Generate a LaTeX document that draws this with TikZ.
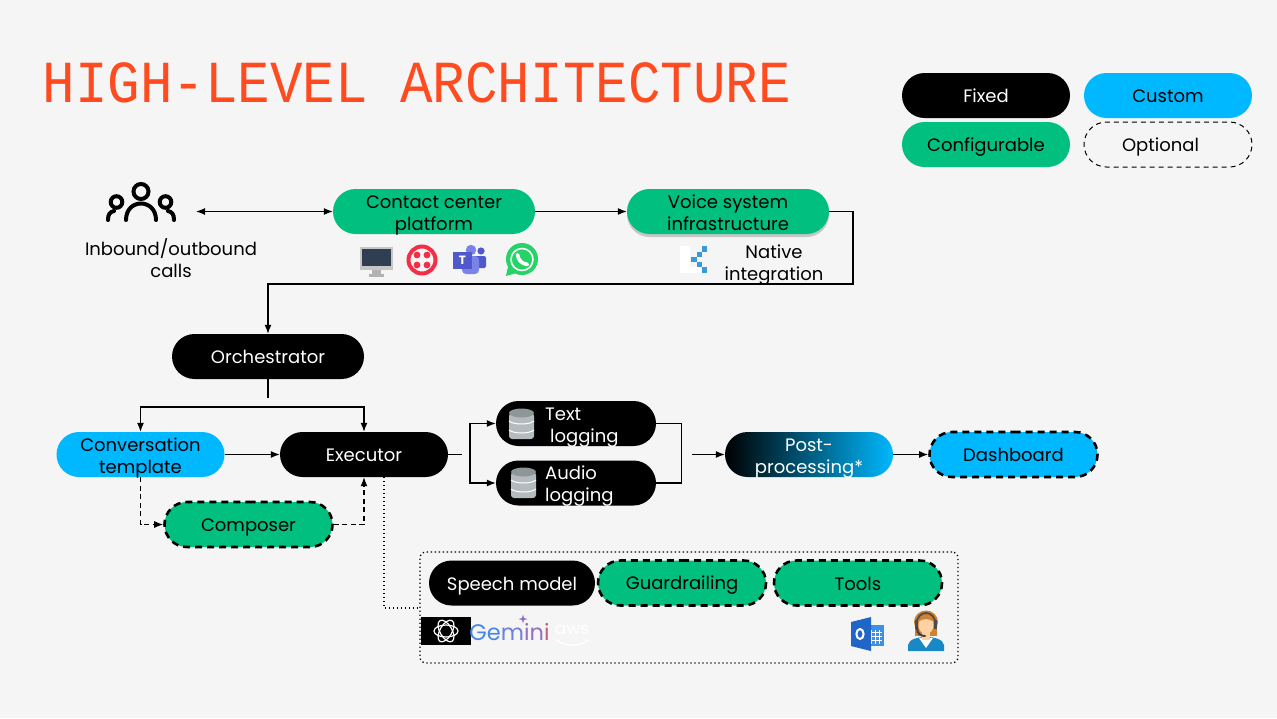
\documentclass[tikz,border=0pt]{standalone}
\usepackage{fontspec}
\setmainfont{Poppins}
\newfontfamily\titlefont{Liberation Mono}
\usetikzlibrary{arrows.meta,calc,shapes.misc,shadows}
\definecolor{pagebg}{HTML}{F5F5F5}
\definecolor{titlered}{HTML}{FF4B1F}
\definecolor{cfggreen}{HTML}{00BF7F}
\definecolor{custblue}{HTML}{00B8FF}
\newcommand{\linestrut}{\rule[-4pt]{0pt}{22.8pt}}
\newcommand{\lowerline}[1]{\smash{\raisebox{-9.5pt}{#1}}}
\tikzset{
  pill/.style = {
    rounded rectangle,
    minimum width=168pt,
    minimum height=45pt,
    inner sep=0pt,
    align=center,
    font={\fontsize{18}{22}\selectfont},
    execute at begin node={\linestrut},
    execute at end node={\linestrut}
  },
  fixedpill/.style = {pill, fill=black, text=white},
  custompill/.style = {pill, fill=custblue},
  configpill/.style = {pill, fill=cfggreen},
  optionalline/.style = {draw=black, line width=2.6pt, dash pattern=on 7pt off 5pt},
  plainlabel/.style = {
    inner sep=0pt,
    align=center,
    font={\fontsize{18}{22}\selectfont},
    execute at begin node={\linestrut},
    execute at end node={\linestrut}
  },
  flow/.style = {
    line width=1.2pt,
    -{Latex[length=9pt,width=7pt]}
  },
  plainline/.style = {
    line width=1.2pt
  },
  dashflow/.style = {
    flow,
    dash pattern=on 5pt off 3.5pt
  },
  dotline/.style = {
    line width=1.3pt,
    dash pattern=on 1.3pt off 2.7pt
  },
}

\begin{document}
\begin{tikzpicture}[x=1pt,y=-1pt]

  \fill[pagebg] (0,0) rectangle (1277,718);
  \useasboundingbox (0,0) rectangle (1277,718);

  \node[text=titlered,inner sep=0pt,anchor=west,font={\titlefont\fontsize{54.2}{60}\selectfont}] (title) at (42.5,82.5) {\scalebox{1}[1.1]{HIGH-LEVEL ARCHITECTURE}};

  % legend
  \node[fixedpill] (fixedkey) at (986,95.5) {Fixed};
  \node[custompill] (customkey) at (1168,95.5) {Custom};
  \node[configpill] (configkey) at (986,144.5) {Configurable};
  \node[pill,draw=black,line width=1pt,dash pattern=on 5pt off 4pt] (optionalkey) at (1168,144.5) {Optional\hspace*{15pt}};

  % top row
  \node[plainlabel] (calls) at (171,260) {Inbound/outbound\\calls};
  \coordinate (callsend) at (196,211.5);
  \node[configpill,minimum width=202pt] (contact) at (434,211.5) {\lowerline{Contact center}\\\lowerline{platform}};
  \node[configpill,minimum width=202pt,drop shadow={shadow xshift=0pt,shadow yshift=-3pt,opacity=0.4}] (voice) at (728,211.5) {\lowerline{Voice system}\\\lowerline{infrastructure}};
  \node[plainlabel] (native) at (774,265) {Native\\integration};

  % middle
  \node[fixedpill,minimum width=192pt] (orchestrator) at (268,356.5) {Orchestrator};
  \node[custompill] (template) at (140.5,454.5) {\lowerline{Conversation}\\\lowerline{template}};
  \node[fixedpill] (executor) at (364,454.5) {Executor};
  \node[configpill,optionalline] (composer) at (248.5,524.5) {Composer};
  \node[fixedpill,minimum width=160pt] (textlog) at (576,423.5) {};
  \node[fixedpill,minimum width=160pt] (audiolog) at (576,483) {};
  \node[plainlabel,text=white,anchor=west,align=left] (textloglabel) at (545,428) {Text\\\hspace*{5pt}logging};
  \node[plainlabel,text=white,anchor=west,align=left] (audiologlabel) at (545,486) {Audio\\logging};
  \node[pill,left color=black,right color=custblue,text=white] (post) at (809,454.5) {\lowerline{Post-}\\\lowerline{processing*}};
  \node[custompill,optionalline] (dashboard) at (1013.5,454.5) {Dashboard};

  % model group
  \node[draw,dotline,rounded corners=6pt,minimum width=538pt,minimum height=111pt,inner sep=0pt] (modelbox) at (689,607.5) {};
  \node[fixedpill,minimum width=166pt] (speech) at (512,583) {Speech model};
  \node[configpill,optionalline] (guard) at (682,583) {Guardrailing};
  \node[configpill,optionalline] (tools) at (858,583) {Tools};

  % connectors
  \coordinate (orchstub) at (268,398);
  \coordinate (orchsplit) at (268,407);
  \coordinate (voiceturn) at (853,284);
  \coordinate (execstub) at (462,454.5);
  \coordinate (logsplit) at (470,454.5);
  \coordinate (logjoin) at (681.5,454.5);
  \coordinate (poststub) at (692,454.5);
  \coordinate (execdot) at (384,477);
  \coordinate (boxdot) at (420,608);

  \draw[flow,{Latex[length=9pt,width=7pt]}-{Latex[length=9pt,width=7pt]}] (callsend) -- (contact.west);
  \foreach \from/\to in {
    contact.east/voice.west,
    template.east/executor.west,
    poststub/post.west,
    post.east/dashboard.west} {
    \draw[flow] (\from) -- (\to);
  }
  \draw[flow] (voice.east) -| (voiceturn) -| (orchestrator.north);
  \draw[plainline] (orchestrator.south) -- (orchstub);
  \draw[flow] (orchsplit) -| (template.north);
  \draw[flow] (orchsplit) -| (executor.north);
  \draw[dashflow] (template.south) |- (composer.west);
  \draw[dashflow] (composer.east) -| (executor.south);
  \draw[plainline] (executor.east) -- (execstub);
  \draw[flow] (logsplit) |- (textlog.west);
  \draw[flow] (logsplit) |- (audiolog.west);
  \draw[plainline] (textlog.east) -| (logjoin);
  \draw[plainline] (audiolog.east) -| (logjoin);
  \draw[dotline] (execdot) |- (boxdot);

  % database icons
  \definecolor{dbgray}{HTML}{B4BBBE}
  \definecolor{dbdark}{HTML}{8E9699}
  \foreach \dbx/\dby in {521.5/424, 523.5/483} {
    \fill[dbgray,rounded corners=3pt] (\dbx-12.5,\dby-11) rectangle (\dbx+12.5,\dby+15);
    \fill[dbdark] (\dbx,\dby-11) ellipse (12.5 and 4.5);
    \foreach \dbs in {-3,6} {
      \draw[white,line width=1pt] (\dbx-12.5,\dby+\dbs) .. controls (\dbx-8,\dby+\dbs+4) and (\dbx+8,\dby+\dbs+4) .. (\dbx+12.5,\dby+\dbs);
    }
  }

  % people icon
  \draw[line width=4pt,line cap=round] (141,191.5) circle (7.5);
  \draw[line width=4pt,line cap=round] (126,220) .. controls (126,198) and (156,198) .. (156,220);
  \draw[line width=4pt,line cap=round] (116.5,202) circle (5.8);
  \draw[line width=4pt,line cap=round] (165.5,202) circle (5.8);
  \draw[line width=4pt,line cap=round] (108,220) .. controls (108,214) and (110,212) .. (114,211);
  \draw[line width=4pt,line cap=round] (174,220) .. controls (174,214) and (172,212) .. (168,211);

  % monitor icon
  \definecolor{screenslate}{HTML}{2F3E50}
  \fill[gray!45] (360,247) rectangle (393,270);
  \fill[gray!60] (372,270) rectangle (381,274);
  \fill[gray!60] (369,274) rectangle (384,276.5);
  \fill[screenslate] (362,249) rectangle (391,265.5);

  % twilio icon
  \definecolor{twiliored}{HTML}{F22F46}
  \draw[twiliored,line width=4pt] (422,260) circle (13.5);
  \foreach \dx/\dy in {-5/-5,5/-5,-5/5,5/5} {
    \fill[twiliored] (422+\dx,260+\dy) circle (3.4);
  }

  % teams icon
  \definecolor{teamsdark}{HTML}{5059C9}
  \definecolor{teamslight}{HTML}{7B83EB}
  \fill[teamsdark] (481,251) circle (3.6);
  \fill[teamsdark,rounded corners=2pt] (474,256) rectangle (486,268);
  \fill[teamslight] (471,250) circle (5.2);
  \fill[teamslight,rounded corners=4pt] (462,256) rectangle (479,274);
  \fill[teamsdark] (453,252) rectangle (472,269);
  \node[text=white,inner sep=0pt,font={\fontsize{12}{12}\selectfont\bfseries}] (teamst) at (462.5,260.5) {T};

  % whatsapp icon
  \definecolor{wagreen}{HTML}{25D366}
  \fill[wagreen] (522,259) circle (16);
  \fill[wagreen] (506,276) -- (509,262) -- (520,272) -- cycle;
  \draw[white,line width=1.6pt] (522,259.5) circle (11);
  \draw[white,line width=3.6pt,line cap=round] (517.5,254.5) .. controls (518,260) and (522,264) .. (527.5,264.5);

  % native integration logo
  \fill[white] (680,246) rectangle (690,273);
  \fill[white] (680,267) rectangle (703,273);
  \foreach \xa/\ya/\xb/\yb in {
    701.7/246/707.3/251.7,
    696.7/251.7/701.7/256.7,
    691/256.7/696.7/262.3,
    696.7/262.3/701.7/267.3,
    701.7/267.3/707.3/273.3} {
    \fill[cyan!70!blue!80!white] (\xa,\ya) rectangle (\xb,\yb);
  }

  % model logos
  \fill[black] (420.5,616.5) rectangle (470.5,645);
  \foreach \tilt in {0,60,120} {
    \draw[white,line width=1.2pt,rotate around={\tilt:(446,631)}] (446,631) ellipse (12 and 6);
  }
  \definecolor{gemA}{HTML}{4A86E8}
  \definecolor{gemB}{HTML}{6F80D8}
  \definecolor{gemC}{HTML}{9272C0}
  \definecolor{gemD}{HTML}{C2607F}
  \node[inner sep=0pt,font={\fontsize{22.5}{25}\selectfont}] (gemini) at (509.5,632) {\textcolor{gemA}{Ge}\textcolor{gemB}{m}\textcolor{gemC}{in}\textcolor{gemD}{i}};
  \fill[gemC] (523,614.5) -- (524,618) -- (527.5,619) -- (524,620) -- (523,623.5) -- (522,620) -- (518.5,619) -- (522,618) -- cycle;
  \node[text=white,inner sep=0pt,font={\fontsize{17}{19}\selectfont}] (awslogo) at (572,630) {aws};
  \draw[white,line width=1.3pt] (556,640) .. controls (566,647) and (580,647) .. (588,640);

  % outlook icon
  \definecolor{outdark}{HTML}{1F66C8}
  \definecolor{outlight}{HTML}{3F90E0}
  \fill[outlight] (866,625) rectangle (884,646);
  \foreach \gx in {871,875,879} {
    \draw[white,line width=0.7pt] (\gx,630) -- (\gx,644);
  }
  \foreach \gy in {632,636,640} {
    \draw[white,line width=0.7pt] (869,\gy) -- (882,\gy);
  }
  \fill[outdark] (851,622) -- (871,617) -- (871,651) -- (851,646) -- cycle;
  \draw[white,line width=2pt] (860,634) ellipse (3.6 and 5);

  % agent icon
  \fill[brown!75!orange] (926,622) ellipse (12 and 11.5);
  \fill[brown!75!orange] (915,622) rectangle (937,636);
  \fill[blue!35!cyan!75!black!90] (908,651) -- (908,645) .. controls (909,639) and (918,637) .. (926,637) .. controls (934,637) and (943,639) .. (944,645) -- (944,651) -- cycle;
  \fill[white] (919,638) -- (926,648) -- (933,638) -- cycle;
  \fill[orange!35!white] (922,630) rectangle (930,640);
  \fill[orange!35!white] (926,625) ellipse (7.5 and 9);
  \fill[brown!75!orange] (918,622) .. controls (921,614) and (931,614) .. (934,622) .. controls (929,618) and (923,618) .. (918,622);
  \draw[black!70,line width=1.8pt] (916.5,625) .. controls (916,609) and (936,609) .. (935.5,625);
  \fill[black!70] (915,620) rectangle (918,629);
  \fill[black!70] (934,620) rectangle (937,629);
  \draw[black!75,line width=2pt,line cap=round] (917,628) .. controls (917,634) and (921,636) .. (925,636);

\end{tikzpicture}
\end{document}
